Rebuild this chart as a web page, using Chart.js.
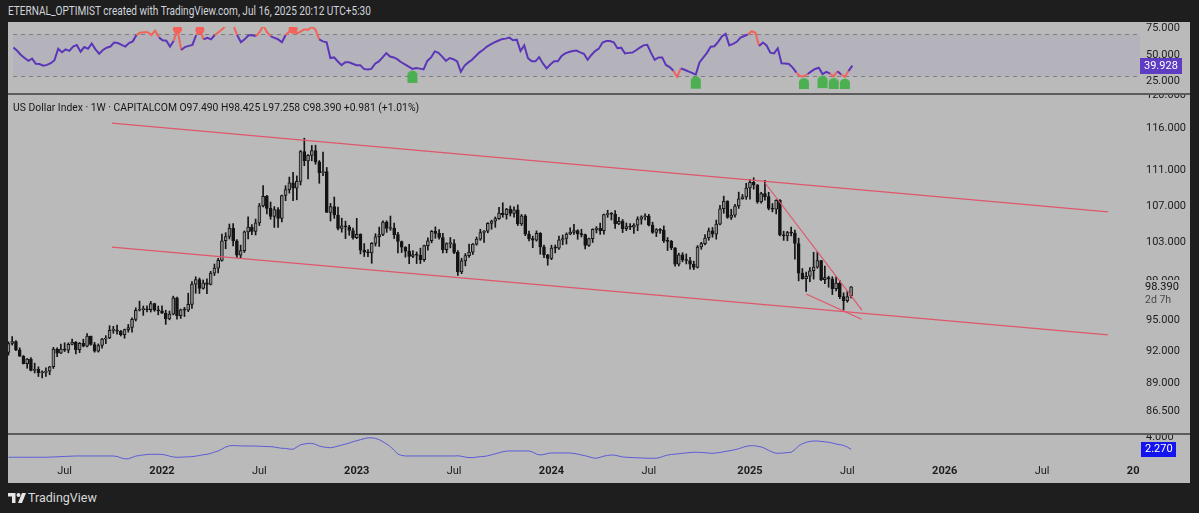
<!DOCTYPE html>
<html>
<head>
<meta charset="utf-8">
<title>US Dollar Index - 1W</title>
<script src="https://cdn.jsdelivr.net/npm/chart.js@4.4.1/dist/chart.umd.min.js"></script>
<style>
  html, body { margin: 0; padding: 0; width: 1199px; height: 513px; overflow: hidden; background: #1e1e1e; font-family: Roboto, "Open Sans", sans-serif; }
  #frame { position: absolute; left: 8px; top: 22px; width: 1182px; height: 461px; background: #bababa; }
  canvas { position: absolute; left: 8px; }
  .sep { position: absolute; left: 8px; width: 1182px; height: 2px; background: #5c5c5c; }
  .txt { position: absolute; white-space: nowrap; transform-origin: 0 0; }
  #title { left: 8px; top: 4px; font-size: 12px; color: #d1d4dc; }
  #legend { left: 13px; top: 100px; font-size: 11.5px; color: #161616; }
  #footer { position: absolute; left: 8px; top: 490px; height: 14px; color: #d9d9d9; font-size: 12.5px; }
  #footer svg { position: absolute; left: 0; top: 3px; }
  #footer span { position: absolute; left: 20px; top: 0; white-space: nowrap; }
</style>
</head>
<body>
<div id="frame"></div>
<canvas id="rsiChart" width="1182" height="72" style="top:22px"></canvas>
<canvas id="mainChart" width="1182" height="338" style="top:95px"></canvas>
<canvas id="volChart" width="1182" height="49" style="top:434px"></canvas>
<div class="sep" style="top:93px"></div>
<div class="sep" style="top:433px"></div>
<div id="title" class="txt">ETERNAL_OPTIMIST created with TradingView.com, Jul 16, 2025 20:12 UTC+5:30</div>
<div id="legend" class="txt"></div>
<div id="footer">
  <svg width="18" height="10" viewBox="0 0 36 20"><path fill="#e6e6e6" d="M0 0h15v20h-7V7H0z"/><circle fill="#e6e6e6" cx="21" cy="4" r="4"/><path fill="#e6e6e6" d="M28 0h8l-8 20h-8z"/></svg>
  <span>TradingView</span>
</div>
<script>
// weekly candles, first bar = week of 22 Mar 2021 (index 0), last = 14 Jul 2025
const opens = [
  91.92, 92.77, 92.95, 92.16, 91.56, 90.86, 91.28, 90.23, 90.31, 90.00,
  90.03, 90.14, 90.56, 92.23, 91.84, 92.23, 92.13, 92.69, 92.90, 92.17,
  92.80, 92.52, 93.49, 92.68, 92.03, 92.58, 93.19, 93.30, 94.04, 94.08,
  93.96, 93.63, 94.12, 94.32, 95.13, 96.03, 96.09, 96.16, 96.08, 96.70,
  96.03, 95.97, 95.73, 95.17, 95.64, 97.27, 95.48, 96.08, 96.04, 96.62,
  98.66, 99.13, 98.22, 98.79, 98.63, 99.79, 100.32, 101.12, 103.20, 103.66,
  104.56, 103.19, 101.67, 102.15, 104.15, 104.67, 104.21, 105.13, 107.01, 108.06,
  106.73, 105.85, 106.60, 105.63, 108.16, 108.82, 109.60, 108.98, 109.76, 113.19,
  112.12, 112.76, 113.31, 111.99, 110.76, 110.87, 106.29, 106.93, 106.00, 104.53,
  104.82, 104.70, 104.31, 103.52, 103.89, 102.20, 101.98, 101.92, 102.92, 103.63,
  103.87, 105.21, 104.52, 104.58, 103.86, 103.12, 102.51, 102.10, 101.55, 101.72,
  101.66, 101.20, 102.68, 103.20, 104.22, 103.99, 103.55, 102.24, 102.90, 102.91,
  101.97, 99.93, 101.07, 101.63, 102.00, 102.84, 103.38, 104.09, 104.24, 105.07,
  105.32, 105.59, 106.22, 106.04, 106.66, 106.16, 106.56, 105.02, 105.91, 103.92,
  103.43, 103.27, 103.99, 102.55, 101.70, 101.33, 102.43, 102.41, 103.29, 103.44,
  103.92, 104.11, 104.29, 103.94, 103.86, 102.70, 103.43, 104.43, 104.55, 104.30,
  106.04, 106.15, 106.09, 105.03, 105.30, 104.49, 104.72, 104.67, 104.89, 105.55,
  105.80, 105.87, 104.88, 104.09, 104.40, 104.32, 103.21, 103.14, 102.46, 100.72,
  101.70, 101.18, 101.11, 100.72, 100.38, 102.54, 102.89, 103.50, 104.26, 103.91,
  104.99, 106.68, 107.55, 105.74, 105.99, 106.99, 107.80, 108.00, 109.00, 109.65,
  109.35, 107.44, 108.37, 108.04, 106.71, 106.63, 107.61, 103.84, 103.72, 104.09,
  104.04, 102.91, 99.79, 99.23, 99.47, 100.04, 100.42, 101.09, 99.11, 99.33,
  99.19, 98.20, 98.77, 97.40, 96.99, 97.49
];
const highs = [
  92.93, 93.44, 93.05, 92.36, 91.62, 91.35, 91.43, 90.90, 90.56, 90.19,
  90.45, 90.60, 92.40, 92.35, 92.72, 92.84, 92.83, 93.19, 92.95, 92.87,
  93.19, 93.73, 93.50, 92.88, 92.73, 93.28, 93.53, 94.50, 94.44, 94.56,
  94.04, 94.17, 94.63, 95.27, 96.27, 96.94, 96.45, 96.46, 96.91, 96.73,
  96.44, 96.46, 96.03, 95.95, 97.44, 97.34, 96.15, 96.32, 97.74, 98.92,
  99.42, 99.29, 99.09, 99.21, 99.98, 100.74, 101.35, 103.93, 104.07, 105.01,
  105.06, 103.33, 102.74, 104.26, 105.79, 104.95, 105.55, 107.27, 109.29, 108.19,
  107.43, 106.93, 106.81, 108.20, 109.27, 110.25, 110.79, 110.38, 113.33, 114.78,
  112.85, 113.92, 113.95, 112.15, 113.15, 111.35, 107.28, 107.99, 106.88, 105.65,
  105.32, 104.87, 104.58, 105.63, 103.95, 102.90, 102.25, 103.01, 103.96, 104.67,
  105.36, 105.36, 105.88, 105.11, 104.12, 103.17, 102.57, 102.81, 102.16, 102.01,
  102.41, 102.73, 103.52, 104.31, 104.70, 104.40, 103.99, 102.98, 103.55, 103.33,
  102.16, 101.35, 101.84, 102.84, 102.91, 103.59, 104.44, 104.31, 105.16, 105.43,
  105.78, 106.84, 107.35, 106.73, 106.99, 106.89, 107.11, 106.05, 106.04, 104.23,
  103.70, 104.26, 104.08, 102.73, 101.75, 102.73, 102.75, 103.69, 103.82, 104.05,
  104.60, 104.97, 104.39, 104.44, 103.92, 103.48, 104.49, 104.73, 105.10, 106.11,
  106.52, 106.26, 106.49, 105.74, 105.51, 105.12, 105.06, 105.06, 105.80, 105.91,
  106.13, 106.06, 105.21, 104.51, 104.50, 104.80, 103.55, 103.24, 102.47, 101.88,
  101.93, 101.80, 101.44, 101.04, 102.69, 103.04, 103.87, 104.57, 104.63, 105.44,
  107.07, 108.09, 107.57, 106.63, 107.18, 108.54, 108.28, 109.54, 109.97, 110.17,
  109.38, 108.52, 109.88, 108.52, 107.26, 107.68, 107.69, 104.23, 104.21, 104.68,
  104.36, 103.48, 100.27, 99.91, 100.38, 101.98, 102.00, 101.12, 100.54, 99.48,
  99.42, 99.42, 99.03, 97.78, 97.95, 98.425
];
const lows = [
  91.65, 92.62, 92.09, 91.53, 90.82, 90.42, 90.18, 89.98, 89.65, 89.53,
  89.66, 89.81, 90.40, 91.51, 91.80, 92.00, 91.88, 92.63, 91.78, 91.89,
  92.45, 92.45, 92.62, 91.94, 91.95, 92.33, 92.76, 93.24, 93.76, 93.67,
  93.50, 93.28, 93.87, 93.87, 94.96, 95.95, 95.52, 95.85, 95.85, 95.92,
  95.57, 95.71, 94.63, 95.08, 95.57, 95.14, 95.21, 95.40, 95.89, 96.22,
  97.73, 97.71, 98.15, 97.68, 98.58, 99.55, 99.82, 101.04, 102.35, 103.39,
  102.66, 101.43, 101.30, 101.96, 103.41, 103.86, 103.82, 104.84, 106.90, 106.11,
  105.53, 104.64, 104.64, 105.25, 107.58, 108.43, 107.59, 107.68, 109.34, 111.55,
  110.05, 112.12, 111.72, 109.54, 110.40, 106.28, 105.34, 105.63, 104.37, 104.12,
  103.43, 103.79, 103.38, 103.43, 101.80, 101.53, 101.50, 100.82, 102.64, 102.59,
  103.75, 104.10, 104.32, 103.44, 101.92, 101.95, 101.46, 100.79, 101.42, 100.79,
  100.79, 101.01, 102.20, 102.98, 103.47, 103.37, 101.92, 101.92, 102.44, 101.84,
  99.57, 99.74, 100.55, 101.44, 101.74, 102.73, 103.25, 103.02, 104.05, 104.44,
  104.65, 105.51, 105.75, 105.54, 105.88, 105.76, 104.84, 104.85, 103.75, 103.18,
  102.46, 103.16, 101.77, 101.42, 100.62, 101.20, 101.91, 102.29, 102.77, 102.85,
  103.85, 103.87, 103.36, 103.61, 102.33, 102.60, 103.02, 104.04, 103.88, 103.90,
  105.74, 105.45, 104.52, 104.93, 104.08, 104.29, 104.39, 103.99, 104.28, 104.99,
  105.46, 104.80, 104.00, 103.65, 104.00, 103.01, 102.16, 102.25, 100.52, 100.54,
  100.97, 100.75, 100.21, 100.16, 100.32, 102.29, 102.75, 103.26, 103.58, 103.37,
  104.90, 106.19, 105.63, 105.50, 105.75, 106.72, 107.73, 107.73, 107.76, 108.87,
  107.29, 107.31, 107.65, 106.56, 106.34, 106.12, 103.71, 103.24, 103.20, 103.72,
  101.26, 99.00, 99.17, 97.92, 98.92, 99.18, 100.30, 99.03, 98.70, 98.35,
  97.60, 97.96, 97.19, 96.05, 96.83, 97.258
];
const closes = [
  92.77, 92.95, 92.16, 91.56, 90.86, 91.28, 90.23, 90.31, 90.00, 90.03,
  90.14, 90.56, 92.23, 91.84, 92.23, 92.13, 92.69, 92.90, 92.17, 92.80,
  92.52, 93.49, 92.68, 92.03, 92.58, 93.19, 93.30, 94.04, 94.08, 93.96,
  93.63, 94.12, 94.32, 95.13, 96.03, 96.09, 96.16, 96.08, 96.70, 96.03,
  95.97, 95.73, 95.17, 95.64, 97.27, 95.48, 96.08, 96.04, 96.62, 98.66,
  99.13, 98.22, 98.79, 98.63, 99.79, 100.32, 101.12, 103.20, 103.66, 104.56,
  103.19, 101.67, 102.15, 104.15, 104.67, 104.21, 105.13, 107.01, 108.06, 106.73,
  105.85, 106.60, 105.63, 108.16, 108.82, 109.60, 108.98, 109.76, 113.19, 112.12,
  112.76, 113.31, 111.99, 110.76, 110.87, 106.29, 106.93, 106.00, 104.53, 104.82,
  104.70, 104.31, 103.52, 103.89, 102.20, 101.98, 101.92, 102.92, 103.63, 103.87,
  105.21, 104.52, 104.58, 103.86, 103.12, 102.51, 102.10, 101.55, 101.72, 101.66,
  101.20, 102.68, 103.20, 104.22, 103.99, 103.55, 102.24, 102.90, 102.91, 101.97,
  99.93, 101.07, 101.63, 102.00, 102.84, 103.38, 104.09, 104.24, 105.07, 105.32,
  105.59, 106.22, 106.04, 106.66, 106.16, 106.56, 105.02, 105.91, 103.92, 103.43,
  103.27, 103.99, 102.55, 101.70, 101.33, 102.43, 102.41, 103.29, 103.44, 103.92,
  104.11, 104.29, 103.94, 103.86, 102.70, 103.43, 104.43, 104.55, 104.30, 106.04,
  106.15, 106.09, 105.03, 105.30, 104.49, 104.72, 104.67, 104.89, 105.55, 105.80,
  105.87, 104.88, 104.09, 104.40, 104.32, 103.21, 103.14, 102.46, 100.72, 101.70,
  101.18, 101.11, 100.72, 100.38, 102.54, 102.89, 103.50, 104.26, 103.91, 104.99,
  106.68, 107.55, 105.74, 105.99, 106.99, 107.80, 108.00, 109.00, 109.65, 109.35,
  107.44, 108.37, 108.04, 106.71, 106.63, 107.61, 103.84, 103.72, 104.09, 104.04,
  102.91, 99.79, 99.23, 99.47, 100.04, 100.42, 101.09, 99.11, 99.33, 99.19,
  98.20, 98.77, 97.40, 96.99, 97.409, 98.39
];

// RSI pane
const rsi = [
  57, 54, 50, 47.1, 44.4, 46.6, 41.7, 41.4, 39.8, 40.6,
  42.2, 45, 55.9, 52.6, 55.3, 53.9, 58, 59.4, 53.1, 57.5,
  55.9, 60.8, 55.3, 51.2, 54.7, 56.9, 58, 61.8, 61.3, 59.6,
  58, 61.3, 62.9, 68.9, 71.1, 71.6, 71.6, 68.9, 73, 66.7,
  64, 63.5, 58, 63.5, 74.3, 54.7, 57.5, 58.6, 59.6, 68.9,
  73.8, 64.8, 66.2, 64.8, 68.9, 71.6, 74.3, 78, 79, 78,
  68.9, 62, 64.8, 68.4, 68.9, 67.6, 71.6, 78, 71.6, 67.6,
  66.2, 64.8, 62, 68.9, 72.2, 74.3, 70.3, 72.2, 74.3, 73.8,
  76.5, 74.3, 64.8, 62.9, 62, 47.1, 47.7, 43.9, 40.4, 43.1,
  43.1, 41.7, 40.4, 40.4, 36.8, 36.3, 36.8, 41.7, 43.9, 47.7,
  51.8, 48.5, 47.7, 45.8, 43.1, 41.2, 39, 36.8, 37.6, 37.1,
  36.3, 44.4, 47.7, 53.4, 52, 48.5, 44.4, 47.1, 46, 44,
  34.1, 40, 43, 45.5, 49, 52.5, 55, 58, 60, 62,
  63.5, 65, 65.5, 66.5, 64, 64.5, 53.7, 59.1, 46.9, 44.1,
  44, 48, 42, 37.3, 41, 44.1, 44.1, 49, 51.5, 52.8,
  53.7, 54.2, 52.5, 51.2, 45.5, 50, 53.7, 56, 61.8, 63.2,
  63.2, 62, 56.4, 56.9, 51.5, 52, 52.3, 54.5, 57, 59.1,
  59.6, 52, 45.5, 47.7, 47.7, 40.6, 38.5, 35, 29.2, 37.3,
  36, 34.5, 33, 31.4, 43, 47.5, 52, 57.8, 58.3, 62.5,
  67.5, 70, 59.1, 60.5, 62.5, 66.5, 68, 69.5, 72.5, 71,
  58.6, 61.8, 59, 52.2, 51.5, 56.4, 42.2, 42, 41.5, 38,
  33.3, 29.8, 29.8, 32, 34.5, 36.8, 37.9, 31.9, 34, 32.5,
  29.8, 34.6, 31.5, 29.2, 35, 39.928
];
const sellSignals = [44, 50, 75];
const buySignals = [107, 183, 212, 217, 220, 223];

// lower pane
const vol = [
  1.08, 1.08, 1.08, 1.08, 1.08, 1.08, 1.08, 1.08, 1.08, 1.08,
  1.08, 1.1, 1.12, 1.15, 1.18, 1.2, 1.22, 1.25, 1.27, 1.27,
  1.27, 1.27, 1.27, 1.27, 1.27, 1.27, 1.27, 1.27, 1.27, 1.2,
  1.0, 0.85, 0.85, 1.05, 1.25, 1.35, 1.42, 1.5, 1.52, 1.52,
  1.52, 1.5, 1.4, 1.25, 1.12, 1.08, 1.08, 1.12, 1.15, 1.17,
  1.25, 1.35, 1.45, 1.52, 1.65, 1.85, 2.02, 2.3, 2.6, 2.8,
  2.82, 2.8, 2.78, 2.76, 2.76, 2.75, 2.75, 2.72, 2.7, 2.68,
  2.66, 2.6, 2.5, 2.42, 2.4, 2.3, 2.27, 2.6, 2.95, 3.05,
  3.15, 3.15, 3.0, 2.75, 2.62, 2.55, 2.5, 2.6, 2.75, 2.9,
  3.05, 3.2, 3.4, 3.55, 3.7, 3.85, 3.98, 3.98, 3.9, 3.7,
  3.4, 3.05, 2.66, 2.1, 1.55, 1.35, 1.27, 1.27, 1.27, 1.27,
  1.27, 1.27, 1.27, 1.27, 1.27, 1.27, 1.27, 1.27, 1.27, 1.27,
  1.3, 1.22, 1.1, 1.03, 1.03, 1.1, 1.17, 1.2, 1.3, 1.45,
  1.6, 1.75, 1.9, 2.0, 2.02, 2.02, 2.02, 2.02, 2.02, 2.02,
  1.85, 1.55, 1.42, 1.5, 1.65, 1.72, 1.72, 1.72, 1.72, 1.72,
  1.72, 1.65, 1.55, 1.42, 1.3, 1.15, 1.0, 0.93, 1.08, 1.25,
  1.35, 1.42, 1.38, 1.25, 1.12, 1.08, 1.05, 1.02, 1.0, 0.97,
  0.95, 0.93, 0.93, 0.93, 1.05, 1.25, 1.4, 1.5, 1.55, 1.6,
  1.68, 1.72, 1.78, 1.82, 1.82, 1.8, 1.75, 1.7, 1.67, 1.72,
  1.8, 1.9, 2.0, 2.1, 2.2, 2.35, 2.55, 2.7, 2.8, 2.8,
  2.72, 2.62, 2.4, 2.1, 1.85, 1.67, 1.68, 1.72, 1.78, 1.82,
  2.2, 2.8, 3.1, 3.3, 3.45, 3.5, 3.5, 3.45, 3.38, 3.31,
  3.2, 3.05, 2.95, 2.85, 2.6, 2.27
];

// drawn trend lines, [week index, price] end points
const channelTop = [[27.65, 116.6], [293.6, 106.33]];
const channelBottom = [[27.65, 102.53], [293.6, 93.6]];
const wedgeTop = [[202, 109.6], [227.9, 96.05]];
const wedgeBottom = [[213, 97.66], [227.8, 95.13]];

// axes
const tickIdx = [15, 41, 67, 93, 119, 145, 171, 198, 224, 250, 276, 302];
const tickText = ['Jul', '2022', 'Jul', '2023', 'Jul', '2024', 'Jul', '2025', 'Jul', '2026', 'Jul', '2027'];
const priceTicks = [86.5, 89, 92, 95, 99, 103, 107, 111, 116, 120];
const rsiTicks = [25, 50, 75];
const volTicks = [4];
const viewStart = -0.12, viewEnd = 302.15;

const BG = '#bababa';
const TEXT = '#1c1c1c';
const FONT = 'Roboto, "Open Sans", sans-serif';
const last = closes.length - 1;
const idx = closes.map((_, i) => i);

// legend text
const chg = closes[last] - closes[last - 1];
document.getElementById('legend').textContent =
  'US Dollar Index · 1W · CAPITALCOM  O' + opens[last].toFixed(3) + '  H' + highs[last].toFixed(3) +
  '  L' + lows[last].toFixed(3) + '  C' + closes[last].toFixed(3) + '  +' + chg.toFixed(3) +
  ' (+' + (chg / closes[last - 1] * 100).toFixed(2) + '%)';

function squeeze(id, width) {
  const el = document.getElementById(id);
  el.style.transform = 'scaleX(' + (width / el.scrollWidth) + ')';
}
squeeze('title', 363);
squeeze('legend', 406);

const hiddenX = { type: 'linear', min: viewStart, max: viewEnd, offset: false, display: false };

// no extra room for the edge labels, they get cut like on the original
function noPad(s) {
  s.paddingTop = 0;
  s.paddingBottom = 0;
  s.paddingLeft = 0;
  s.paddingRight = 0;
}

function rightAxis(extra) {
  return Object.assign({
    position: 'right',
    afterFit: s => { s.width = 50; noPad(s); },
    grid: { display: false, drawTicks: false },
    border: { display: false },
    ticks: { color: TEXT, font: { family: FONT, size: 11 }, padding: 6, callback: v => Number(v).toFixed(3) }
  }, extra);
}

// value tag on the price scale
function valueTag(id, getValue, opts) {
  return {
    id: id,
    afterDraw(chart) {
      const { ctx, chartArea: a, scales: { y } } = chart;
      const v = getValue();
      const py = Math.round(y.getPixelForValue(v));
      ctx.save();
      ctx.fillStyle = opts.bg;
      ctx.fillRect(a.right + opts.dx, py - opts.up, opts.w, opts.h);
      ctx.font = '11px ' + FONT;
      ctx.textBaseline = 'middle';
      ctx.fillStyle = opts.color;
      ctx.fillText(v.toFixed(3), a.right + opts.dx + 4, py + 0.5);
      if (opts.sub) {
        ctx.font = '10.5px ' + FONT;
        ctx.fillStyle = '#4a4a4a';
        ctx.fillText(opts.sub, a.right + opts.dx + 4, py + 13.5);
      }
      ctx.restore();
    }
  };
}

// RSI band and dashed levels
const rsiBands = {
  id: 'rsiBands',
  beforeDatasetsDraw(chart) {
    const { ctx, chartArea: a, scales: { y } } = chart;
    const top = Math.round(y.getPixelForValue(70)) + 0.5;
    const bot = Math.round(y.getPixelForValue(30)) + 0.5;
    ctx.save();
    ctx.fillStyle = 'rgba(120, 80, 200, 0.07)';
    ctx.fillRect(a.left, top, a.right - a.left, bot - top);
    ctx.strokeStyle = '#7f7f7f';
    ctx.lineWidth = 1;
    ctx.setLineDash([4, 4]);
    [top, bot].forEach(p => {
      ctx.beginPath();
      ctx.moveTo(a.left, p);
      ctx.lineTo(a.right, p);
      ctx.stroke();
    });
    ctx.restore();
  }
};

// the time axis label under the price scale is cut off
const scaleCover = {
  id: 'scaleCover',
  afterDraw(chart) {
    const { ctx, chartArea: a, width, height } = chart;
    ctx.save();
    ctx.fillStyle = BG;
    ctx.fillRect(a.right, a.bottom, width - a.right, height - a.bottom);
    ctx.restore();
  }
};

function buyMarker() {
  const c = document.createElement('canvas');
  c.width = 12;
  c.height = 32;
  const g = c.getContext('2d');
  g.fillStyle = '#4caf50';
  g.beginPath();
  g.moveTo(1, 30);
  g.lineTo(1, 22);
  g.bezierCurveTo(1, 19, 4, 18, 6, 17.5);
  g.bezierCurveTo(8, 18, 11, 19, 11, 22);
  g.lineTo(11, 30);
  g.closePath();
  g.fill();
  return c;
}

const lineSet = (pts) => ({
  type: 'line',
  data: pts.map(p => ({ x: p[0], y: p[1] })),
  borderColor: '#e0566a',
  borderWidth: 1.2,
  pointRadius: 0,
  order: 0
});

const common = {
  responsive: false,
  animation: false,
  events: [],
  layout: { padding: 0 },
  plugins: { legend: { display: false }, tooltip: { enabled: false } }
};

// RSI
new Chart(document.getElementById('rsiChart'), {
  type: 'line',
  data: {
    datasets: [{
      data: idx.map(i => ({ x: i, y: rsi[i] })),
      borderColor: '#5b36b8',
      borderWidth: 2,
      pointRadius: 0,
      tension: 0,
      order: 1,
      segment: {
        borderColor: c => (Math.max(c.p0.parsed.y, c.p1.parsed.y) > 70 || Math.min(c.p0.parsed.y, c.p1.parsed.y) < 30) ? '#f0645a' : undefined
      }
    }, {
      data: sellSignals.map(i => ({ x: i, y: rsi[i] })),
      showLine: false,
      pointStyle: 'circle',
      pointRadius: 4.5,
      pointBackgroundColor: '#f4625a',
      pointBorderWidth: 0,
      order: 0
    }, {
      data: buySignals.map(i => ({ x: i, y: rsi[i] })),
      showLine: false,
      pointStyle: buyMarker(),
      order: 0
    }]
  },
  options: Object.assign({}, common, {
    scales: {
      x: hiddenX,
      y: rightAxis({ type: 'linear', min: 17.8, max: 76.5, afterBuildTicks: s => { s.ticks = rsiTicks.map(v => ({ value: v })); } })
    }
  }),
  plugins: [rsiBands, valueTag('rsiTag', () => rsi[last], { bg: '#5e3dc2', color: '#ffffff', dx: 0, up: 8, w: 42, h: 16 })]
});

// price
new Chart(document.getElementById('mainChart'), {
  type: 'bar',
  data: {
    datasets: [{
      data: idx.map(i => ({ x: i, y: [lows[i], highs[i]] })),
      backgroundColor: '#141414',
      barThickness: 1,
      grouped: false,
      order: 3
    }, {
      data: idx.map(i => ({ x: i, y: [opens[i], closes[i]] })),
      backgroundColor: idx.map(i => closes[i] >= opens[i] ? '#8e8e8e' : '#141414'),
      borderColor: '#141414',
      borderWidth: 1,
      borderSkipped: false,
      barThickness: 3,
      minBarLength: 1,
      grouped: false,
      order: 2
    },
    lineSet(channelTop), lineSet(channelBottom), lineSet(wedgeTop), lineSet(wedgeBottom)]
  },
  options: Object.assign({}, common, {
    scales: {
      x: hiddenX,
      y: rightAxis({ type: 'logarithmic', min: 84.55, max: 120.04, afterBuildTicks: s => { s.ticks = priceTicks.map(v => ({ value: v })); } })
    }
  }),
  plugins: [valueTag('priceTag', () => closes[last], { bg: BG, color: '#111111', dx: 1, up: 7, w: 49, h: 27, sub: '2d 7h' })]
});

// lower pane with time axis
new Chart(document.getElementById('volChart'), {
  type: 'line',
  data: {
    datasets: [{
      data: idx.map(i => ({ x: i, y: vol[i] })),
      borderColor: '#5b5bd6',
      borderWidth: 1,
      pointRadius: 0,
      tension: 0
    }]
  },
  options: Object.assign({}, common, {
    scales: {
      x: {
        type: 'linear', min: viewStart, max: viewEnd, offset: false,
        afterBuildTicks: s => { s.ticks = tickIdx.map(v => ({ value: v })); },
        afterFit: s => { s.height = 23; noPad(s); },
        grid: { display: false, drawTicks: false },
        border: { display: false },
        ticks: {
          autoSkip: false, maxRotation: 0, minRotation: 0, padding: 5, color: TEXT,
          font: c => ({ family: FONT, size: 11, weight: /^\d/.test(tickText[tickIdx.indexOf(c.tick && c.tick.value)] || '') ? 'bold' : 'normal' }),
          callback: v => tickText[tickIdx.indexOf(v)]
        }
      },
      y: rightAxis({ type: 'linear', min: 0.67, max: 4.55, afterBuildTicks: s => { s.ticks = volTicks.map(v => ({ value: v })); } })
    }
  }),
  plugins: [scaleCover, valueTag('volTag', () => vol[last], { bg: '#1414f0', color: '#ffffff', dx: 1, up: 7, w: 35, h: 15 })]
});
</script>
</body>
</html>
